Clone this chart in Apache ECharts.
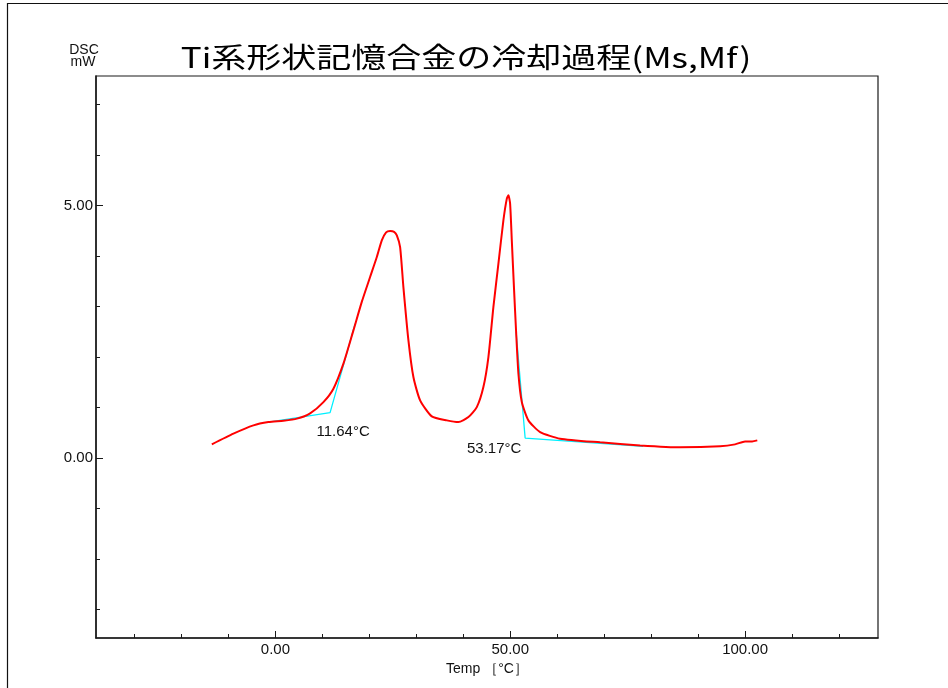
<!DOCTYPE html>
<html>
<head>
<meta charset="utf-8">
<script src="https://cdn.jsdelivr.net/npm/echarts@6/dist/echarts.min.js"></script>
<style>
html,body{margin:0;padding:0;background:#ffffff;}
#chart{width:948px;height:688px;}
</style>
</head>
<body>
<div id="chart"></div>
<script>
// ---- data ----
const tempC = [-13.54,-8.94,-4.68,-1.49,1.70,4.56,7.39,10.22,12.35,14.48,16.61,18.39,20.16,21.59,22.65,23.57,24.42,25.27,25.85,26.55,27.25,28.32,29.38,30.81,33.30,36.49,38.96,41.09,42.88,44.28,45.35,46.41,47.48,48.54,49.27,49.61,49.97,50.33,50.82,51.25,51.74,52.46,53.86,56.36,60.61,69.13,77.65,86.16,94.68,97.87,100.0,101.5,102.6];
const dscMW = [0.271,0.483,0.647,0.712,0.740,0.780,0.885,1.108,1.373,1.868,2.527,3.090,3.582,3.978,4.308,4.467,4.492,4.477,4.407,4.176,3.384,2.329,1.603,1.142,0.825,0.746,0.712,0.811,1.009,1.405,1.999,2.988,3.847,4.704,5.134,5.199,5.035,4.308,3.319,2.494,1.670,1.108,0.746,0.515,0.384,0.311,0.251,0.212,0.232,0.271,0.330,0.330,0.350];
const tangent1T = [-1.49, 11.64, 16.97];
const tangent1Y = [0.712, 0.898, 2.66];
const tangent2T = [51.25, 53.17, 78.3];
const tangent2Y = [2.494, 0.396, 0.23];
const onsetLabels = ['11.64°C', '53.17°C'];
const xMajorTicks = [0, 50, 100];
const xMinorTicks = [-30,-20,-10,0,10,20,30,40,50,60,70,80,90,100,110,120];
const yMajorTicks = [0, 5];
const yMinorTicks = [-3,-2,-1,0,1,2,3,4,5,6,7];
const titleText = 'Ti系形状記憶合金の冷却過程(Ms,Mf)';
const xName = 'Temp ［°C］';
const yName1 = 'DSC';
const yName2 = 'mW';

const zip = (a, b) => a.map((v, i) => [v, b[i]]);
const LAT = '"Liberation Sans", Arial, sans-serif';
const CJK = '"Noto Sans CJK JP", sans-serif';
const AX = '#1a1a1a';

const xMin = -38.2, xMax = 128.3, yMin = -3.56, yMax = 7.56;

const chart = echarts.init(document.getElementById('chart'));
chart.setOption({
  animation: false,
  backgroundColor: '#ffffff',
  grid: {left: 96, right: 70, top: 76, bottom: 50, show: true, borderColor: AX, borderWidth: 1.2, backgroundColor: 'transparent'},
  xAxis: [
    {type: 'value', min: xMin, max: xMax, position: 'bottom',
     axisLine: {show: true, onZero: false, lineStyle: {color: AX, width: 1.5}},
     axisTick: {show: true, inside: true, length: 4, customValues: xMinorTicks, lineStyle: {color: AX}},
     axisLabel: {show: true, customValues: xMajorTicks, formatter: v => Number(v).toFixed(2), fontSize: 15, fontFamily: LAT, color: '#111', margin: 4},
     splitLine: {show: false},
     name: xName, nameLocation: 'middle', nameGap: 22,
     nameTextStyle: {fontSize: 14, fontFamily: LAT, color: '#111'}},
    {type: 'value', min: xMin, max: xMax, position: 'bottom',
     axisLine: {show: false, onZero: false},
     axisTick: {show: true, inside: true, length: 7, customValues: xMajorTicks, lineStyle: {color: AX}},
     axisLabel: {show: false}, splitLine: {show: false}}
  ],
  yAxis: [
    {type: 'value', min: yMin, max: yMax, position: 'left',
     axisLine: {show: true, onZero: false, lineStyle: {color: AX, width: 1.5}},
     axisTick: {show: true, inside: true, length: 4, customValues: yMinorTicks, lineStyle: {color: AX}},
     axisLabel: {show: true, customValues: yMajorTicks, formatter: v => Number(v).toFixed(2), fontSize: 15, fontFamily: LAT, color: '#111', margin: 3},
     splitLine: {show: false}},
    {type: 'value', min: yMin, max: yMax, position: 'left',
     axisLine: {show: false, onZero: false},
     axisTick: {show: true, inside: true, length: 7, customValues: yMajorTicks, lineStyle: {color: AX}},
     axisLabel: {show: false}, splitLine: {show: false}}
  ],
  graphic: [
    {type: 'polyline', silent: true, shape: {points: [[7.5, 688], [7.5, 3.5], [948, 3.5]]}, style: {stroke: '#111', lineWidth: 1.2, fill: null}},
    {type: 'text', x: 466, y: 57, scaleX: 1.25, scaleY: 1, style: {text: titleText, font: '28px ' + CJK, fill: '#000', textAlign: 'center', textVerticalAlign: 'middle'}},
    {type: 'text', x: 84, y: 50, style: {text: yName1, font: '14px ' + LAT, fill: '#111', textAlign: 'center', textVerticalAlign: 'middle'}},
    {type: 'text', x: 83, y: 62, style: {text: yName2, font: '14px ' + LAT, fill: '#111', textAlign: 'center', textVerticalAlign: 'middle'}}
  ],
  series: [
    {type: 'line', name: 'tangent1', data: zip(tangent1T, tangent1Y), showSymbol: false, symbol: 'none',
     lineStyle: {color: '#00f0ff', width: 1.3}, z: 2,
     markPoint: {symbol: 'circle', symbolSize: 0, silent: true,
       label: {show: true, position: 'inside', offset: [13, 19], formatter: p => p.name, fontSize: 15, fontFamily: LAT, color: '#111'},
       data: [{name: onsetLabels[0], coord: [tangent1T[1], tangent1Y[1]]}]}},
    {type: 'line', name: 'tangent2', data: zip(tangent2T, tangent2Y), showSymbol: false, symbol: 'none',
     lineStyle: {color: '#00f0ff', width: 1.3}, z: 2,
     markPoint: {symbol: 'circle', symbolSize: 0, silent: true,
       label: {show: true, position: 'inside', offset: [-31, 11], formatter: p => p.name, fontSize: 15, fontFamily: LAT, color: '#111'},
       data: [{name: onsetLabels[1], coord: [tangent2T[1], tangent2Y[1]]}]}},
    {type: 'line', name: 'DSC', data: zip(tempC, dscMW), showSymbol: false, symbol: 'none', smooth: 0.2,
     lineStyle: {color: '#ff0000', width: 2}, z: 3}
  ]
});
</script>
</body>
</html>
